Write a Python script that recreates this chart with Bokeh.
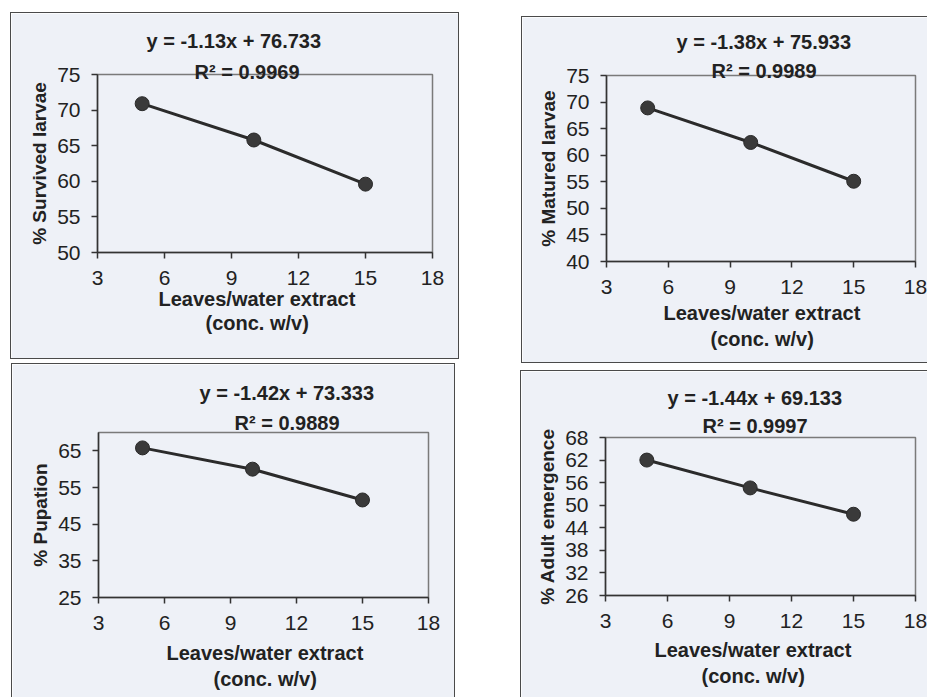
from bokeh.plotting import figure
from bokeh.layouts import row, column
from bokeh.models import Title, FixedTicker, Range1d
from bokeh.embed import file_html
from bokeh.resources import INLINE

# ---- data ----
conc = [5, 10, 15]
survived = [70.9, 65.8, 59.6]
matured = [68.9, 62.4, 55.1]
pupation = [65.8, 60.0, 51.6]
adult = [62.0, 54.6, 47.6]

x_ticks = [3, 6, 9, 12, 15, 18]
survived_ticks = [50, 55, 60, 65, 70, 75]
matured_ticks = [40, 45, 50, 55, 60, 65, 70, 75]
pupation_ticks = [25, 35, 45, 55, 65]
adult_ticks = [26, 32, 38, 44, 50, 56, 62, 68]

equations = ["y = -1.13x + 76.733", "y = -1.38x + 75.933",
             "y = -1.42x + 73.333", "y = -1.44x + 69.133"]
r_squared = ["R\u00b2 = 0.9969", "R\u00b2 = 0.9989",
             "R\u00b2 = 0.9889", "R\u00b2 = 0.9997"]
y_labels = ["% Survived larvae", "% Matured larvae", "% Pupation", "% Adult emergence"]
x_label_1 = "Leaves/water extract"
x_label_2 = "(conc. w/v)"

BG = "#eef1f7"
INK = "#222222"
FONT = "Liberation Sans"


def title(text, offset, standoff):
    return Title(text=text, align="left", offset=offset, standoff=standoff,
                 text_font=FONT, text_font_size="20px", text_font_style="bold",
                 text_color=INK)


def panel(yvals, yticks, ylo, yhi, eq, r2, ylab, w, h, mb, offs, stand, margin, sides):
    p = figure(width=w, height=h, output_backend="svg", toolbar_location=None,
               x_range=Range1d(3, 18), y_range=Range1d(ylo, yhi),
               min_border_left=mb[0], min_border_right=mb[1],
               min_border_top=mb[2], min_border_bottom=mb[3],
               background_fill_color=BG, border_fill_color=BG)
    p.margin = margin
    p.styles = {"border-" + s: "1px solid #4a4a4a" for s in sides}
    p.grid.visible = False
    p.outline_line_color = "#7a7a7a"
    p.outline_line_width = 1.5
    p.xaxis.ticker = FixedTicker(ticks=x_ticks)
    p.yaxis.ticker = FixedTicker(ticks=yticks)
    for ax in (p.xaxis[0], p.yaxis[0]):
        ax.axis_line_color = "#333333"
        ax.axis_line_width = 1.5
        ax.major_tick_line_color = "#333333"
        ax.major_tick_line_width = 1.5
        ax.major_tick_out = 6
        ax.major_tick_in = 0
        ax.minor_tick_line_color = None
        ax.major_label_text_font = FONT
        ax.major_label_text_font_size = "21px"
        ax.major_label_text_color = INK
    p.xaxis.major_label_standoff = 12
    p.yaxis.major_label_standoff = 11
    p.yaxis.axis_label = ylab
    p.yaxis.axis_label_text_font = FONT
    p.yaxis.axis_label_text_font_size = "19px"
    p.yaxis.axis_label_text_font_style = "bold"
    p.yaxis.axis_label_text_color = INK
    p.yaxis.axis_label_standoff = 4

    p.line(conc, yvals, line_color="#2b2b2b", line_width=3)
    p.scatter(conc, yvals, size=14, fill_color="#3a3a3a", line_color="#2a2a2a")

    # offsets: eq, r2, xlabel1, xlabel2 ; standoffs: r2, eq, xl1, xl2
    p.add_layout(title(r2, offs[1], stand[0]), "above")
    p.add_layout(title(eq, offs[0], stand[1]), "above")
    p.add_layout(title(x_label_1, offs[2], stand[2]), "below")
    p.add_layout(title(x_label_2, offs[3], stand[3]), "below")
    return p


p1 = panel(survived, survived_ticks, 50, 75, equations[0], r_squared[0], y_labels[0],
           449, 347, (85, 28, 59, 108), (49, 97, 61, 108), (-16, 29, -3, 2),
           (12, 0, 0, 10), ["left", "right", "top", "bottom"])
p3 = panel(pupation, pupation_ticks, 25, 70, equations[2], r_squared[2], y_labels[2],
           444, 334, (86, 25, 68, 101), (101, 136, 68, 115), (-2, 13, 15, -11),
           (4, 0, 0, 11), ["left", "right", "top"])
p2 = panel(matured, matured_ticks, 40, 75, equations[1], r_squared[1], y_labels[1],
           406, 347, (82, 13, 56, 103), (70, 105, 57, 104), (-13, 23, 7, -3),
           (16, 0, 0, 62), ["left", "top", "bottom"])
p4 = panel(adult, adult_ticks, 26, 68, equations[3], r_squared[3], y_labels[3],
           407, 327, (84, 9, 66, 103), (62, 97, 49, 96), (1, 7, 12, -8),
           (7, 0, 0, 61), ["left", "top"])

layout = row(column(p1, p3), column(p2, p4))

html = file_html(layout, INLINE)
html = html.replace("<body>", '<body style="background-color:#eef1f7;">', 1)
open("out.html", "w").write(html)
